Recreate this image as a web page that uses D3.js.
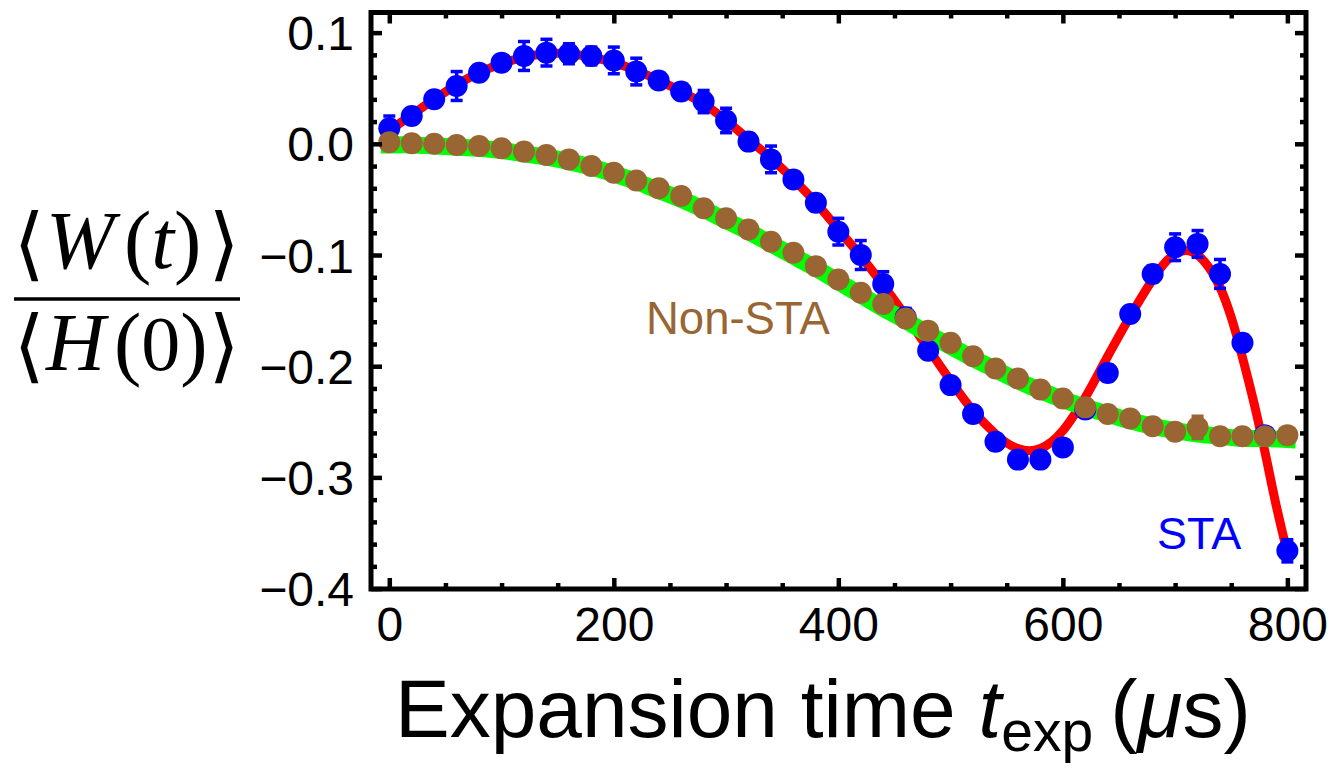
<!DOCTYPE html>
<html><head><meta charset="utf-8">
<script src="https://cdn.jsdelivr.net/npm/d3@7/dist/d3.min.js"></script>
<style>body{margin:0;background:#fff}</style>
</head><body>
<svg id="chart" width="1334" height="770"></svg>
<script>
// ---------- data ----------
const times = [0,20,40,60,80,100,120,140,160,180,200,220,240,260,280,300,320,340,360,380,400,
  420,440,460,480,500,520,540,560,580,600,620,640,660,680,700,720,740,760,780,800];

const staValues = [0.014,0.025,0.040,0.052,0.064,0.073,0.079,0.082,0.081,0.079,0.075,0.065,0.057,0.047,0.038,0.021,0.002,-0.014,-0.032,-0.053,
  -0.079,-0.100,-0.126,-0.156,-0.186,-0.217,-0.243,-0.268,-0.284,-0.284,-0.273,-0.239,-0.206,-0.153,-0.117,-0.093,-0.090,-0.117,-0.179,-0.262,-0.366];
const staErrors = [0.011,0.005,0.006,0.013,0.006,0.006,0.013,0.012,0.009,0.008,0.012,0.012,0.006,0.007,0.010,0.011,0.007,0.012,0.006,0.007,
  0.012,0.013,0.011,0.008,0.007,0.006,0.006,0.006,0.007,0.007,0.006,0.006,0.007,0.006,0.007,0.012,0.012,0.013,0.007,0.006,0.010];

const nonStaValues = [0.0015,0.0005,0.000,-0.001,-0.002,-0.004,-0.007,-0.010,-0.014,-0.020,-0.026,-0.033,-0.040,-0.047,-0.058,-0.067,-0.077,-0.088,-0.098,-0.110,
  -0.122,-0.134,-0.144,-0.157,-0.168,-0.179,-0.191,-0.202,-0.211,-0.221,-0.229,-0.237,-0.243,-0.247,-0.254,-0.259,-0.255,-0.263,-0.263,-0.263,-0.262];
const nonStaErrors = [0.004,0.003,0.003,0.003,0.003,0.003,0.004,0.003,0.003,0.003,0.004,0.003,0.003,0.003,0.004,0.003,0.003,0.003,0.004,0.003,
  0.003,0.004,0.003,0.003,0.004,0.003,0.003,0.004,0.003,0.003,0.004,0.003,0.003,0.004,0.003,0.004,0.010,0.004,0.003,0.004,0.004];

const staFitTimes = [0,20,40,60,80,100,120,140,160,180,200,220,240,260,280,300,320,340,360,380,400,420,440,460,480,500,520,540,550,560,570,580,590,600,
  620,640,660,680,690,700,710,720,730,740,750,760,770,780,790,800];
const staFitValues = [0.012,0.026,0.040,0.053,0.064,0.072,0.078,0.081,0.081,0.078,0.073,0.066,0.057,0.047,0.036,0.021,0.004,-0.013,-0.032,-0.053,
  -0.077,-0.101,-0.127,-0.155,-0.184,-0.213,-0.240,-0.261,-0.269,-0.274,-0.276,-0.274,-0.268,-0.258,
  -0.228,-0.191,-0.155,-0.122,-0.108,-0.099,-0.096,-0.100,-0.111,-0.129,-0.156,-0.192,-0.232,-0.277,-0.325,-0.368];

const nonStaFitTimes = [0,20,40,60,80,100,120,140,160,180,200,220,240,260,280,300,320,340,360,380,400,
  420,440,460,480,500,520,540,560,580,600,620,640,660,680,700,720,740,760,780,800];
const nonStaFitValues = [-0.001,-0.001,-0.002,-0.003,-0.004,-0.006,-0.009,-0.012,-0.016,-0.021,-0.027,-0.034,-0.042,-0.050,-0.059,-0.069,-0.079,-0.090,-0.101,-0.112,
  -0.124,-0.136,-0.148,-0.159,-0.171,-0.182,-0.193,-0.203,-0.213,-0.222,-0.230,-0.237,-0.243,-0.249,-0.254,-0.258,-0.261,-0.263,-0.265,-0.265,-0.266];

const xMajorTicks = [0,200,400,600,800];
const xMinorTicks = [50,100,150,250,300,350,450,500,550,650,700,750];
const yMajorTicks = [0.1,0.0,-0.1,-0.2,-0.3,-0.4];
const yTickLabels = ["0.1","0.0","\u22120.1","\u22120.2","\u22120.3","\u22120.4"];
const yMinorTicks = [0.08,0.06,0.04,0.02,-0.02,-0.04,-0.06,-0.08,-0.12,-0.14,-0.16,-0.18,-0.22,-0.24,-0.26,-0.28,-0.32,-0.34,-0.36,-0.38];

// ---------- layout ----------
const L = 371, R = 1306, T = 12.5, B = 589;
const x = d3.scaleLinear().domain([-16.3, 816.6]).range([L, R]);
const y = d3.scaleLinear().domain([-0.4, 0.1181]).range([588.6, T]);

const svg = d3.select("#chart");
const BLUE = "#0000ff", BROWN = "#996633", RED = "#ff0000", GREEN = "#00ff00";
const sans = "'Liberation Sans', Arial, Helvetica, sans-serif";
const serif = "'Liberation Serif', 'Times New Roman', Times, serif";

// ---------- fit curves ----------
const line = d3.line().x(d => x(d[0])).y(d => y(d[1])).curve(d3.curveCatmullRom.alpha(0.5));
svg.append("path").datum(staFitTimes.map((t,i)=>[t, staFitValues[i]]))
  .attr("d", line).attr("fill","none").attr("stroke",RED).attr("stroke-width",9);
svg.append("path").datum(nonStaFitTimes.map((t,i)=>[t, nonStaFitValues[i]]))
  .attr("d", line).attr("fill","none").attr("stroke",GREEN).attr("stroke-width",17)
  .attr("stroke-linecap","square");

// ---------- data points with error bars ----------
function drawSeries(vals, errs, color) {
  const g = svg.append("g");
  const data = times.map((t,i)=>({t, v: vals[i], e: errs[i]}));
  const eb = g.selectAll("g.eb").data(data).join("g").attr("stroke", color).attr("stroke-width", 3.5);
  eb.append("line").attr("x1", d=>x(d.t)).attr("x2", d=>x(d.t))
    .attr("y1", d=>y(d.v+d.e)).attr("y2", d=>y(d.v-d.e));
  eb.append("line").attr("x1", d=>x(d.t)-6).attr("x2", d=>x(d.t)+6)
    .attr("y1", d=>y(d.v+d.e)).attr("y2", d=>y(d.v+d.e));
  eb.append("line").attr("x1", d=>x(d.t)-6).attr("x2", d=>x(d.t)+6)
    .attr("y1", d=>y(d.v-d.e)).attr("y2", d=>y(d.v-d.e));
  g.selectAll("circle").data(data).join("circle")
    .attr("cx", d=>x(d.t)).attr("cy", d=>y(d.v)).attr("r", 11).attr("fill", color);
}
drawSeries(staValues, staErrors, BLUE);
drawSeries(nonStaValues, nonStaErrors, BROWN);

// ---------- frame & ticks ----------
function styleAxis(g) {
  g.select(".domain").remove();
  g.selectAll(".tick line").attr("stroke","#000").attr("stroke-width",4.5);
}
const majLen = 11, minLen = 6;
svg.append("g").attr("transform",`translate(0,${B})`)
  .call(d3.axisBottom(x).tickValues(xMajorTicks).tickSize(-majLen).tickPadding(0).tickFormat(d3.format("d")))
  .call(styleAxis)
  .call(g => g.selectAll("text").attr("y", 52).attr("dy", null)
     .attr("font-family", sans).attr("font-size", 48).attr("fill","#000"));
svg.append("g").attr("transform",`translate(0,${B})`)
  .call(d3.axisBottom(x).tickValues(xMinorTicks).tickSize(-minLen).tickFormat(""))
  .call(styleAxis);
svg.append("g").attr("transform",`translate(0,${T})`)
  .call(d3.axisTop(x).tickValues(xMajorTicks).tickSize(-majLen).tickFormat(""))
  .call(styleAxis);
svg.append("g").attr("transform",`translate(0,${T})`)
  .call(d3.axisTop(x).tickValues(xMinorTicks).tickSize(-minLen).tickFormat(""))
  .call(styleAxis);
svg.append("g").attr("transform",`translate(${L},0)`)
  .call(d3.axisLeft(y).tickValues(yMajorTicks).tickSize(-majLen).tickPadding(0)
    .tickFormat((d,i)=>yTickLabels[i]))
  .call(styleAxis)
  .call(g => g.selectAll("text").attr("x", -17).attr("dy", null).attr("y", 17)
     .attr("font-family", sans).attr("font-size", 48).attr("fill","#000"));
svg.append("g").attr("transform",`translate(${L},0)`)
  .call(d3.axisLeft(y).tickValues(yMinorTicks).tickSize(-minLen).tickFormat(""))
  .call(styleAxis);
svg.append("g").attr("transform",`translate(${R},0)`)
  .call(d3.axisRight(y).tickValues(yMajorTicks).tickSize(-majLen).tickFormat(""))
  .call(styleAxis);
svg.append("g").attr("transform",`translate(${R},0)`)
  .call(d3.axisRight(y).tickValues(yMinorTicks).tickSize(-minLen).tickFormat(""))
  .call(styleAxis);

svg.append("rect").attr("x",L).attr("y",T).attr("width",R-L).attr("height",B-T)
  .attr("fill","none").attr("stroke","#000").attr("stroke-width",5);

// ---------- series labels ----------
svg.append("text").attr("x",646).attr("y",334).attr("font-family",sans).attr("font-size",45.5)
  .attr("fill",BROWN).text("Non-STA");
svg.append("text").attr("x",1157).attr("y",549).attr("font-family",sans).attr("font-size",45)
  .attr("fill",BLUE).text("STA");

// ---------- x-axis title ----------
const xt = svg.append("text").attr("x",395).attr("y",737).attr("font-family",sans)
  .attr("font-size",82).attr("fill","#000");
xt.append("tspan").text("Expansion time ");
xt.append("tspan").attr("font-style","italic").text("t");
xt.append("tspan").attr("font-size",57).attr("dy",14).text("exp");
xt.append("tspan").attr("dy",-14).attr("dx",17).text("(");
xt.append("tspan").attr("font-style","italic").text("\u03bc");
xt.append("tspan").text("s)");

// ---------- y-axis title (fraction) ----------
const yl = svg.append("g").attr("fill","#000");
// numerator  <W(t)>
const num = yl.append("text").attr("y", 268).attr("font-family", serif).attr("font-size", 82);
num.append("tspan").attr("x", 46).attr("font-style","italic").text("W");
num.append("tspan").attr("x", 124).text("(");
num.append("tspan").attr("font-style","italic").text("t");
num.append("tspan").text(")");
// denominator  <H(0)>
const den = yl.append("text").attr("y", 370).attr("font-family", serif).attr("font-size", 82);
den.append("tspan").attr("x", 46).attr("font-style","italic").text("H");
den.append("tspan").attr("x", 114).text("(");
den.append("tspan").attr("font-size", 78).text("0");
den.append("tspan").text(")");
function bracket(ch, cx, by) {
  yl.append("text").attr("x", cx).attr("y", by)
    .attr("text-anchor","middle").attr("font-family","'DejaVu Serif', 'DejaVu Sans', serif")
    .attr("font-size", 80).text(ch);
}
bracket("\u27e8", 29, 271); bracket("\u27e9", 224, 271);
bracket("\u27e8", 29, 373); bracket("\u27e9", 224, 373);
yl.append("line").attr("x1",14).attr("x2",240).attr("y1",299).attr("y2",299)
  .attr("stroke","#000").attr("stroke-width",3.5);
</script>
</body></html>
